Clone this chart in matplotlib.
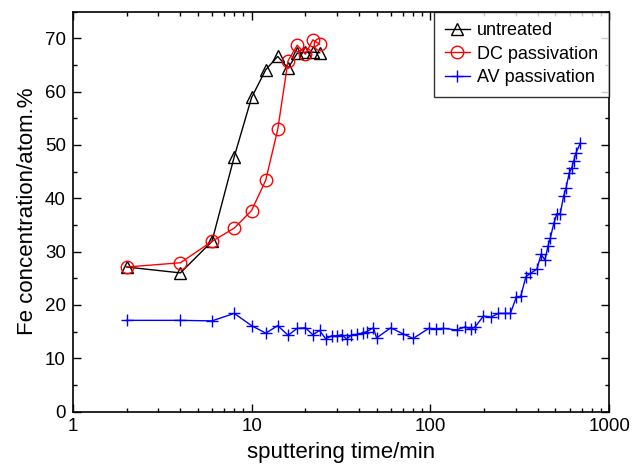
import numpy as np
import matplotlib
matplotlib.use('Agg')
import matplotlib.pyplot as plt
from matplotlib.ticker import LogLocator, MultipleLocator, NullFormatter

plt.rcParams['font.family'] = ['Liberation Sans', 'DejaVu Sans']

# untreated sample
t_untreated = [2, 4, 6, 8, 10, 12, 14, 16, 18, 20, 22, 24]
fe_untreated = [27.1, 26.0, 31.9, 47.8, 58.9, 64.1, 66.6, 64.4, 67.2, 67.4, 67.4, 67.3]

# DC passivation
t_dc = [2, 4, 6, 8, 10, 12, 14, 16, 18, 20, 22, 24]
fe_dc = [27.1, 27.9, 31.9, 34.4, 37.7, 43.4, 52.9, 65.8, 68.7, 67.0, 69.7, 68.9]

# AV passivation
t_av = [2, 4, 6, 8, 10, 12, 14, 16, 18, 20, 22, 24, 26, 28, 30, 32, 34, 36,
        39, 42, 44, 48, 50, 60, 70, 80, 98, 108, 118, 140, 157, 168, 178,
        198, 218, 240, 260, 280, 302, 320, 342, 362, 394, 416, 437, 455,
        468, 490, 510, 532, 556, 573, 598, 616, 632, 650, 690]
fe_av = [17.1, 17.1, 17.0, 18.4, 16.1, 14.7, 16.1, 14.3, 15.6, 15.7, 14.4,
         15.2, 13.6, 14.2, 14.2, 14.4, 13.6, 14.3, 14.5, 14.7, 15.0, 15.7,
         13.8, 15.7, 14.6, 13.7, 15.6, 15.5, 15.6, 15.3, 15.9, 15.4, 15.9,
         17.9, 17.7, 18.4, 18.4, 18.4, 21.4, 21.6, 25.3, 25.9, 26.7, 29.5,
         28.4, 31.1, 32.5, 35.3, 37.1, 37.1, 40.4, 41.9, 44.8, 45.6, 46.9,
         48.4, 50.4]

fig = plt.figure(figsize=(6.44, 4.65), dpi=100)
ax = fig.add_axes([0.113, 0.115, 0.833, 0.860])

ax.plot(t_untreated, fe_untreated, color='black', lw=1, marker='^', ms=9,
        mfc='none', mec='black', mew=1, label='untreated')
ax.plot(t_dc, fe_dc, color='red', lw=1, marker='o', ms=9,
        mfc='none', mec='red', mew=1, label='DC passivation')
ax.plot(t_av, fe_av, color='blue', lw=1, marker='+', ms=9,
        mew=1, label='AV passivation')

ax.set_xscale('log')
ax.set_xlim(1, 1000)
ax.set_ylim(0, 75)
ax.set_xticks([1, 10, 100, 1000])
ax.set_xticklabels(['1', '10', '100', '1000'])
ax.xaxis.set_minor_locator(LogLocator(base=10, subs=np.arange(2, 10)))
ax.xaxis.set_minor_formatter(NullFormatter())
ax.set_yticks(np.arange(0, 71, 10))
ax.yaxis.set_minor_locator(MultipleLocator(5))

ax.tick_params(which='both', direction='in', top=True, right=True,
               labelsize=13.5, width=1)
ax.tick_params(which='major', length=6, pad=5)
ax.tick_params(which='minor', length=3)
for s in ax.spines.values():
    s.set_linewidth(1.2)

ax.set_xlabel('sputtering time/min', fontsize=16, labelpad=5)
ax.set_ylabel('Fe concentration/atom.%', fontsize=16, labelpad=5)

leg = ax.legend(loc='upper right', fontsize=13, frameon=True, fancybox=False,
                edgecolor='black', borderaxespad=0, handlelength=1.4,
                labelspacing=0.35, borderpad=0.6, handletextpad=0.4)
leg.get_frame().set_linewidth(1)

fig.savefig('out.png', dpi=100)
